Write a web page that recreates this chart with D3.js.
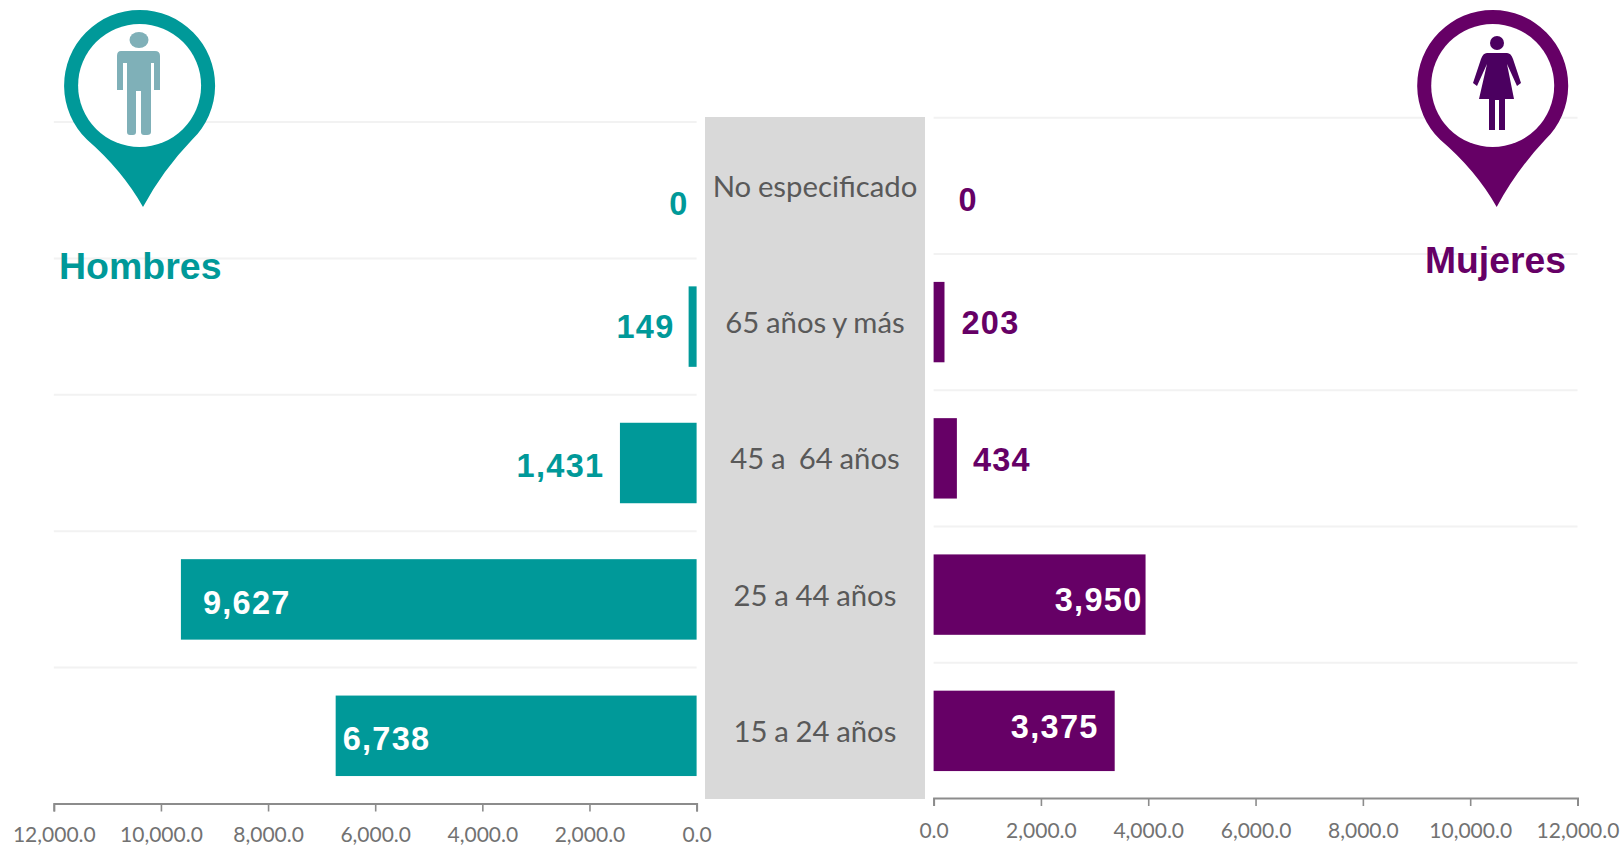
<!DOCTYPE html>
<html>
<head>
<meta charset="utf-8">
<script src="https://cdn.jsdelivr.net/npm/d3@7"></script>
<style>
html,body{margin:0;padding:0;background:#fff;overflow:hidden}
svg{display:block}
</style>
</head>
<body>
<script>
const categories = ["No especificado", "65 años y más", "45 a  64 años", "25 a 44 años", "15 a 24 años"];
const hombres = [0, 149, 1431, 9627, 6738];
const mujeres = [0, 203, 434, 3950, 3375];
const tickValues = [0, 2000, 4000, 6000, 8000, 10000, 12000];
const seriesNames = ["Hombres", "Mujeres"];

const TEAL = "#009999", PURPLE = "#660066";
const W = 1623, H = 845;
const svg = d3.select("body").append("svg").attr("width", W).attr("height", H)
  .style("font-family", "'Liberation Sans', Arial, sans-serif");

const xL = d3.scaleLinear().domain([12000, 0]).range([53.8, 696.6]);
const xR = d3.scaleLinear().domain([0, 12000]).range([933.6, 1577.5]);
const yL = d3.scaleBand().domain(categories).range([122, 804]).paddingInner(0.41).paddingOuter(0.205);
const yR = d3.scaleBand().domain(categories).range([117.7, 799]).paddingInner(0.41).paddingOuter(0.205);

// gray centre panel
svg.append("rect").attr("x", 705).attr("y", 117).attr("width", 220).attr("height", 682).attr("fill", "#D9D9D9");

// gridlines at band edges
function grid(y, x) {
  svg.append("g").selectAll("line").data(categories).join("line")
    .attr("x1", x.range()[0]).attr("x2", x.range()[1])
    .attr("y1", d => y(d) - y.step() * y.paddingInner() / 2)
    .attr("y2", d => y(d) - y.step() * y.paddingInner() / 2)
    .attr("stroke", "#F2F2F2").attr("stroke-width", 2);
}
grid(yL, xL); grid(yR, xR);

// bars
svg.append("g").selectAll("rect").data(hombres).join("rect")
  .attr("x", d => xL(d)).attr("width", d => xL(0) - xL(d))
  .attr("y", (d, i) => yL(categories[i])).attr("height", yL.bandwidth()).attr("fill", TEAL);
svg.append("g").selectAll("rect").data(mujeres).join("rect")
  .attr("x", xR(0)).attr("width", d => xR(d) - xR(0))
  .attr("y", (d, i) => yR(categories[i])).attr("height", yR.bandwidth()).attr("fill", PURPLE);

// axes
function styleAxis(g, dy) {
  g.selectAll("path.domain").attr("stroke", "#8C8C8C").attr("stroke-width", 2).attr("fill", "none");
  g.selectAll(".tick line").attr("stroke", "#8C8C8C").attr("stroke-width", 1.6);
  g.selectAll(".tick text").attr("fill", "#727272").attr("y", dy).attr("dy", 0)
    .style("font-family", "Lato, sans-serif").style("font-size", "21px");
}
const axisOf = x => d3.axisBottom(x).tickValues(tickValues).tickFormat(d3.format(",.1f")).tickSize(8).tickPadding(8);
svg.append("g").attr("transform", "translate(0,803.5)").call(axisOf(xL)).call(g => styleAxis(g, 38.5));
svg.append("g").attr("transform", "translate(0,798)").call(axisOf(xR)).call(g => styleAxis(g, 40));

// category labels
svg.append("g").selectAll("text").data(categories).join("text")
  .attr("x", 815).attr("y", d => yR(d) + yR.bandwidth() / 2 + 11)
  .attr("text-anchor", "middle").attr("fill", "#595959")
  .style("font-family", "Lato, sans-serif").style("font-size", "29.3px").style("white-space", "pre")
  .style("word-spacing", "-0.8px")
  .text(d => d);

// value labels: hand placed in the original, offsets from the bar end
const fmt = d3.format(",");
const leftDx = [-8, -14, -15.5, 22, 7];
const leftAnchor = ["end", "end", "end", "start", "start"];
const leftFill = [TEAL, TEAL, TEAL, "#fff", "#fff"];
const leftDy = [25, 11, 14, 15, 14];
const rightDx = [25, 17, 16, -3, -16];
const rightAnchor = ["start", "start", "start", "end", "end"];
const rightFill = [PURPLE, PURPLE, PURPLE, "#fff", "#fff"];
const rightDy = [25, 12, 13, 16, 7];
const valueFont = g => g.attr("font-weight", "bold").attr("font-size", 32.5).style("letter-spacing", "1.3px");

svg.append("g").call(valueFont).selectAll("text").data(hombres).join("text")
  .attr("x", (d, i) => xL(d) + leftDx[i])
  .attr("y", (d, i) => yL(categories[i]) + yL.bandwidth() / 2 + leftDy[i])
  .attr("text-anchor", (d, i) => leftAnchor[i]).attr("fill", (d, i) => leftFill[i])
  .text(d => fmt(d));
svg.append("g").call(valueFont).selectAll("text").data(mujeres).join("text")
  .attr("x", (d, i) => xR(d) + rightDx[i])
  .attr("y", (d, i) => yR(categories[i]) + yR.bandwidth() / 2 + rightDy[i])
  .attr("text-anchor", (d, i) => rightAnchor[i]).attr("fill", (d, i) => rightFill[i])
  .text(d => fmt(d));

// map-pin icons
function pin(cx, cy, tipX, tipY, color) {
  const R = 75.5, r = 61.5;
  const a1 = 46 * Math.PI / 180;
  const g = svg.append("g");
  const lx = cx - R * Math.cos(a1), rx = cx + R * Math.cos(a1), ey = cy + R * Math.sin(a1);
  g.append("path").attr("fill", color)
    .attr("d", `M${lx},${ey} A${R},${R} 0 1 1 ${rx},${ey} Q${tipX + 20},${tipY - 37} ${tipX},${tipY} Q${tipX - 21},${tipY - 37} ${lx},${ey} Z`);
  g.append("circle").attr("cx", cx).attr("cy", cy).attr("r", r).attr("fill", "#fff");
  return g;
}
const man = pin(139.6, 85.5, 143, 207, TEAL);
man.append("ellipse").attr("cx", 139).attr("cy", 40).attr("rx", 9.5).attr("ry", 8).attr("fill", "#7FB0B8");
man.append("path").attr("fill", "#7FB0B8")
  .attr("d", "M121,51 H155 Q160,51 160,56 V90 H154 V63 H151 V132 Q151,135 147,135 H144 Q141,135 141,132 V91 H136 V132 Q136,135 133,135 H130 Q127,135 127,132 V63 H123 V90 H117 V56 Q117,51 121,51 Z");

const woman = pin(1492.7, 85.5, 1496.7, 207, PURPLE);
woman.append("circle").attr("cx", 1497).attr("cy", 43).attr("r", 7).attr("fill", "#4B0060");
woman.append("path").attr("fill", "#4B0060")
  .attr("d", "M1487,53 H1507 Q1511,53 1513,59 L1521,83 L1517,86 L1507,64 L1514,99 H1505 V130 H1499 V100 H1495 V130 H1489 V99 H1479 L1487,64 L1477,86 L1473,83 L1481,59 Q1483,53 1487,53 Z");

// series titles
svg.append("text").attr("x", 59).attr("y", 279).attr("fill", TEAL)
  .attr("font-weight", "bold").attr("font-size", 37.5).text(seriesNames[0]);
svg.append("text").attr("x", 1425).attr("y", 272.7).attr("fill", PURPLE)
  .attr("font-weight", "bold").attr("font-size", 37.3).text(seriesNames[1]);
</script>
</body>
</html>
